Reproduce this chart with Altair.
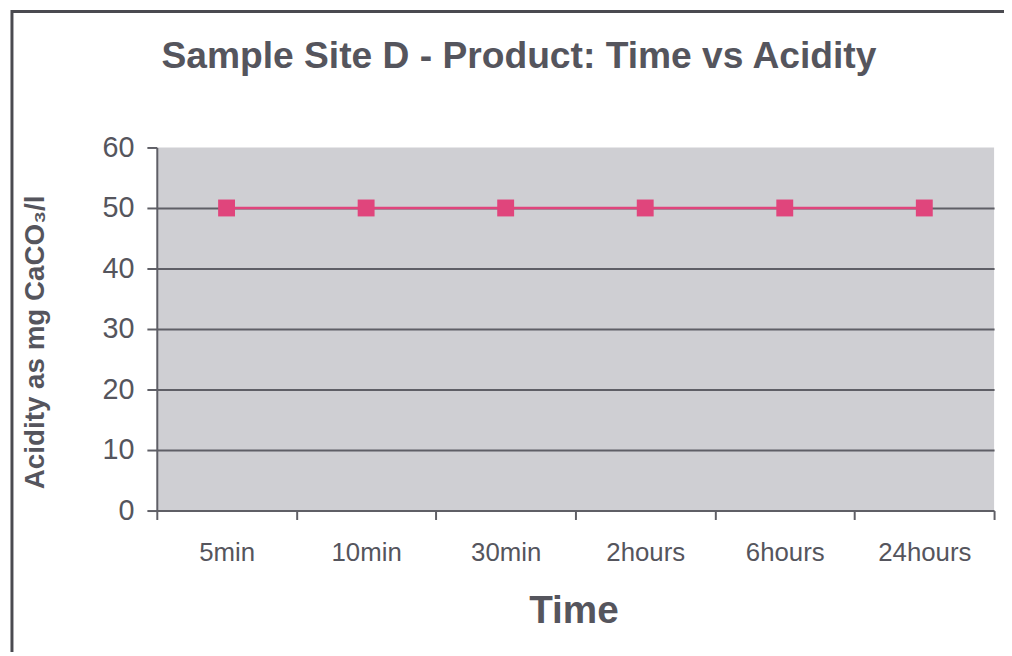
import altair as alt
import pandas as pd

times = ["5min", "10min", "30min", "2hours", "6hours", "24hours"]
acidity = [50, 50, 50, 50, 50, 50]
y_ticks = [0, 10, 20, 30, 40, 50, 60]
chart_title = "Sample Site D - Product: Time vs Acidity"

df = pd.DataFrame({"Time": times, "Acidity": acidity})

TXT = "#55555d"
GRID = "#5f5f66"
FONT = "Liberation Sans"

W, H = 844, 366

x_enc = alt.X(
    "Time:N", sort=times,
    scale=alt.Scale(paddingInner=0, paddingOuter=0),
    axis=alt.Axis(
        title="Time", labelAngle=0, tickBand="extent",
        labelFontSize=26, labelColor=TXT, labelFont=FONT, labelPadding=20,
        tickSize=9, tickColor=GRID, tickWidth=2,
        domainColor=GRID, domainWidth=2,
        titleFontSize=39, titleFont=FONT, titleFontWeight="bold", titleColor=TXT,
        titlePadding=27, titleX=W / 2 - 2, grid=False,
    ),
)
y_enc = alt.Y(
    "Acidity:Q",
    scale=alt.Scale(domain=[0, 60], nice=False),
    axis=alt.Axis(
        title="Acidity as mg CaCO₃/l", values=y_ticks,
        labelFontSize=29, labelColor=TXT, labelFont=FONT, labelPadding=13,
        tickSize=10, tickColor=GRID, tickWidth=2,
        domainColor=GRID, domainWidth=2,
        grid=True, gridColor=GRID, gridWidth=2,
        gridOpacity=alt.condition("datum.value == 60 || datum.value == 0", alt.value(0), alt.value(1)),
        titleFontSize=28, titleFont=FONT, titleFontWeight="bold", titleColor=TXT,
        titlePadding=53, titleY=196,
    ),
)

one = pd.DataFrame({"t": [chart_title]})

frame = alt.Chart(one).mark_rect(
    filled=False, stroke="#4a4a50", strokeWidth=3, clip=False
).encode(
    x=alt.value(-146), x2=alt.value(W + 40),
    y=alt.value(-137), y2=alt.value(H + 200),
)

title = alt.Chart(one).mark_text(
    font=FONT, fontSize=37.5, fontWeight="bold", color=TXT, baseline="alphabetic", align="center"
).encode(text="t:N", x=alt.value(W / 2 - 57), y=alt.value(-80))

line = alt.Chart(df).mark_line(color="#e0457c", strokeWidth=2.5).encode(x=x_enc, y=y_enc)
pts = alt.Chart(df).mark_point(shape="square", filled=True, size=290, color="#e0457c", opacity=1).encode(
    x=alt.X("Time:N", sort=times), y="Acidity:Q"
)

chart = alt.layer(frame, title, line, pts).properties(
    width=W, height=H,
    background="white",
    autosize=alt.AutoSizeParams(type="none"),
    padding={"left": 150, "top": 138, "right": 10, "bottom": 140},
).configure_view(stroke=None, fill="#cfcfd3")

chart.save("out.html", embed_options={"renderer": "svg", "actions": False})
